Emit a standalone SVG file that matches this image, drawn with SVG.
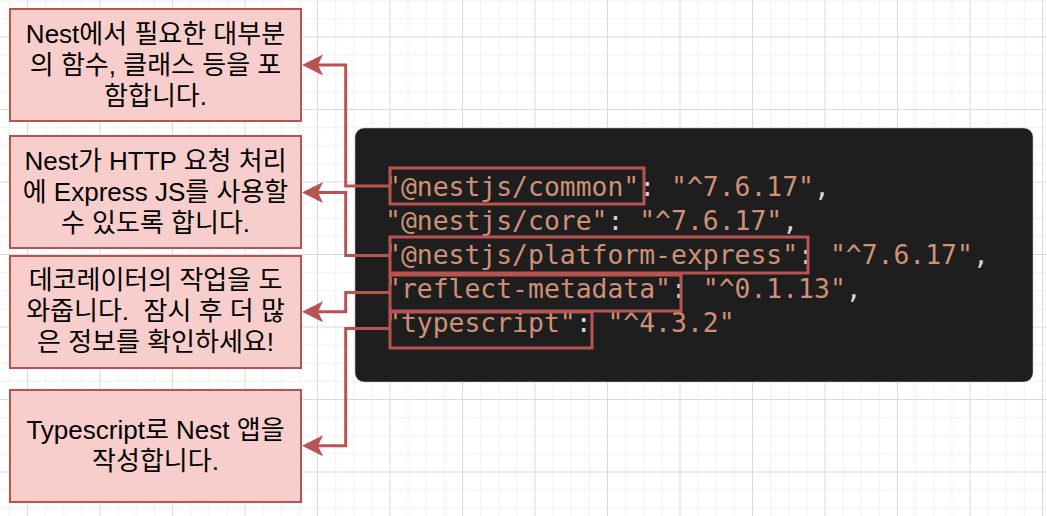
<svg xmlns="http://www.w3.org/2000/svg" width="1047" height="516" viewBox="0 0 1047 516">
<style>
.note{fill:#f8cecc;stroke:#b85450;stroke-width:2}
.nt{font-family:"Liberation Sans","Noto Sans CJK KR",sans-serif;font-size:26px;fill:#000;text-anchor:middle;white-space:pre}
.code{font-family:"DejaVu Sans Mono",monospace;font-size:26.4px;fill:#ce9178;white-space:pre}
.p{fill:#d4d4d4}
.hl{fill:none;stroke:#b85450;stroke-width:3}
.conn{fill:none;stroke:#b85450;stroke-width:3;marker-end:url(#arr)}
</style>
<defs>
<pattern id="grid" patternUnits="userSpaceOnUse" x="27" y="36.5" width="72.5" height="72.5">
<path d="M18.625,0V72.5M36.75,0V72.5M54.875,0V72.5M0,18.625H72.5M0,36.75H72.5M0,54.875H72.5" stroke="#f0f0f0" stroke-width="1" fill="none"/>
<path d="M0.5,0V72.5M0,0.5H72.5" stroke="#dadada" stroke-width="1" fill="none"/>
</pattern>
<marker id="arr" markerUnits="userSpaceOnUse" markerWidth="22" markerHeight="22" viewBox="0 0 22 22" refX="5" refY="11" orient="auto" overflow="visible">
<path d="M0,0.5L21,11L0,21.5L5,11Z" fill="#b85450" stroke="none"/>
</marker>
</defs>
<rect width="1047" height="516" fill="#ffffff"/>
<rect width="1047" height="516" fill="url(#grid)"/>

<g id="code-panel">
<rect x="355" y="128" width="678" height="254" rx="9" fill="#1e1e1e" stroke="#c8c8c8" stroke-width="0.5"/>
<text class="code" x="385" y="196">"@nestjs/common"<tspan class="p">:</tspan> "^7.6.17"<tspan class="p">,</tspan></text>
<text class="code" x="385" y="230">"@nestjs/core"<tspan class="p">:</tspan> "^7.6.17"<tspan class="p">,</tspan></text>
<text class="code" x="385" y="264">"@nestjs/platform-express"<tspan class="p">:</tspan> "^7.6.17"<tspan class="p">,</tspan></text>
<text class="code" x="385" y="298">"reflect-metadata"<tspan class="p">:</tspan> "^0.1.13"<tspan class="p">,</tspan></text>
<text class="code" x="385" y="332">"typescript"<tspan class="p">:</tspan> "^4.3.2"</text>
</g>

<g id="hl-common"><rect class="hl" x="390" y="168" width="254" height="36"/></g>
<g id="hl-platform-express"><rect class="hl" x="390" y="237" width="418" height="36"/></g>
<g id="hl-reflect-metadata"><rect class="hl" x="390" y="275" width="291" height="36"/></g>
<g id="hl-typescript"><rect class="hl" x="390" y="312" width="202" height="36"/></g>

<g id="note-common">
<rect class="note" x="10" y="9" width="291" height="112"/>
<text class="nt" x="155.5" y="43">Nest에서 필요한 대부분</text>
<text class="nt" x="155.5" y="74">의 함수, 클래스 등을 포</text>
<text class="nt" x="155.5" y="105">함합니다.</text>
</g>
<g id="note-platform-express">
<rect class="note" x="10" y="136" width="291" height="112"/>
<text class="nt" x="155.5" y="170">Nest가 HTTP 요청 처리</text>
<text class="nt" x="155.5" y="201">에 Express JS를 사용할</text>
<text class="nt" x="155.5" y="232">수 있도록 합니다.</text>
</g>
<g id="note-reflect-metadata">
<rect class="note" x="10" y="256" width="291" height="112"/>
<text class="nt" x="155.5" y="289">데코레이터의 작업을 도</text>
<text class="nt" x="155.5" y="320">와줍니다.  잠시 후 더 많</text>
<text class="nt" x="155.5" y="351">은 정보를 확인하세요!</text>
</g>
<g id="note-typescript">
<rect class="note" x="10" y="390" width="291" height="112"/>
<text class="nt" x="155.5" y="439">Typescript로 Nest 앱을</text>
<text class="nt" x="155.5" y="470">작성합니다.</text>
</g>

<g id="connectors">
<path class="conn" d="M390,186H345.7V65H318"/>
<path class="conn" d="M390,255.5H345.7V192.5H318"/>
<path class="conn" d="M390,292.5H345.7V311.7H318"/>
<path class="conn" d="M390,328.5H345.7V445.7H318"/>
</g>
</svg>
